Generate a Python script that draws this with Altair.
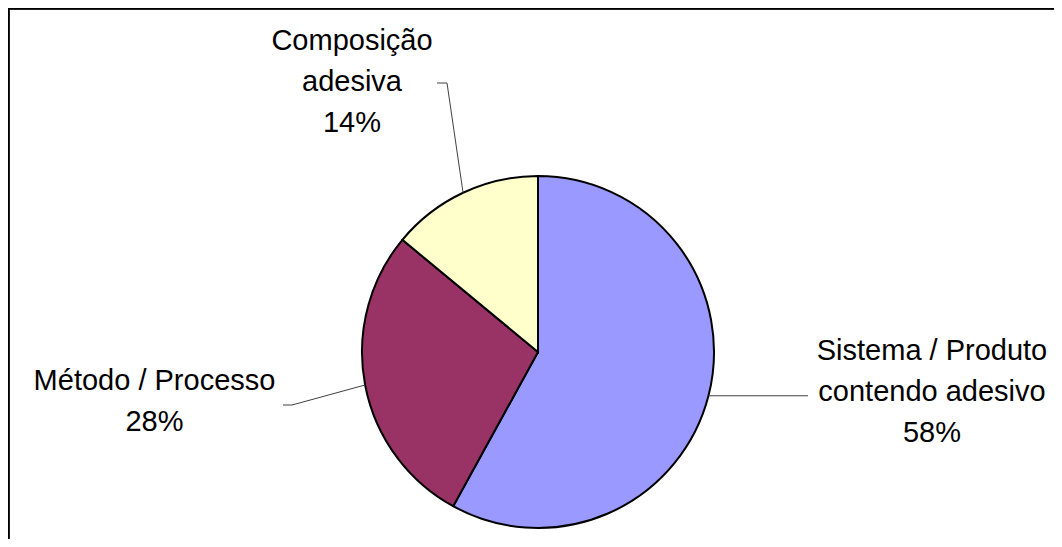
import math
import altair as alt
import pandas as pd

# ---- data ----
categories = ["Sistema / Produto contendo adesivo", "Método / Processo", "Composição adesiva"]
values = [58, 28, 14]
colors = ["#9999FF", "#993366", "#FFFFCC"]
label_text = [["Sistema / Produto", "contendo adesivo"], ["Método / Processo"], ["Composição", "adesiva"]]

# ---- layout (chart pixel coordinates; page = chart + 8) ----
W, H = 1046, 531
CX, CY, R = 530, 344, 176
FONT = "Liberation Sans"
FS = 29
LINE_H = 41
label_anchor = [(924, 352), (146.5, 382), (344, 42)]          # centre x, first baseline y
leader_tail = [[(800, None)], [(284, 397), (275, 397)], [(439, 75), (429, 75)]]

pie_df = pd.DataFrame({"category": categories, "value": values, "order": list(range(len(values)))})

# leader lines start at the middle angle of each slice, on the rim
total = sum(values)
rows_line, rows_text = [], []
cum = 0
for i, (cat, v) in enumerate(zip(categories, values)):
    mid = (cum + v / 2) / total * 2 * math.pi
    cum += v
    sx, sy = CX + R * math.sin(mid), CY - R * math.cos(mid)
    pts = [(sx, sy)]
    for (px, py) in leader_tail[i]:
        pts.append((px, sy if py is None else py))
    for k, (px, py) in enumerate(pts):
        rows_line.append({"cat": cat, "k": k, "px": px, "py": py})
    lines = label_text[i] + [f"{v}%"]
    ax, ay = label_anchor[i]
    for j, t in enumerate(lines):
        rows_text.append({"cat": cat, "t": t, "px": ax, "py": ay + j * LINE_H})

line_df = pd.DataFrame(rows_line)
text_df = pd.DataFrame(rows_text)

pie = alt.Chart(pie_df).mark_arc(outerRadius=R, stroke="black", strokeWidth=2).encode(
    theta=alt.Theta("value:Q", stack=True),
    color=alt.Color("category:N", scale=alt.Scale(domain=categories, range=colors), legend=None),
    order=alt.Order("order:Q"),
    x=alt.value(CX),
    y=alt.value(CY),
)

leaders = alt.Chart(line_df).mark_line(color="#404040", strokeWidth=1).encode(
    x=alt.X("px:Q", scale=None, axis=None),
    y=alt.Y("py:Q", scale=None, axis=None),
    detail="cat:N",
    order="k:Q",
)

labels = alt.Chart(text_df).mark_text(
    font=FONT, fontSize=FS, align="center", baseline="alphabetic", color="black"
).encode(
    x=alt.X("px:Q", scale=None, axis=None),
    y=alt.Y("py:Q", scale=None, axis=None),
    text="t:N",
)

frame_top = alt.Chart(pie_df).mark_rule(color="black", strokeWidth=3).encode(
    x=alt.value(0), x2=alt.value(W), y=alt.value(0)
)
frame_left = alt.Chart(pie_df).mark_rule(color="black", strokeWidth=3).encode(
    x=alt.value(0), y=alt.value(0), y2=alt.value(H)
)

chart = alt.layer(pie, leaders, labels, frame_top, frame_left).properties(
    width=W, height=H, autosize="none", padding=0
).configure_view(stroke=None)

chart.save("out.html", embed_options={"renderer": "svg", "actions": False})
